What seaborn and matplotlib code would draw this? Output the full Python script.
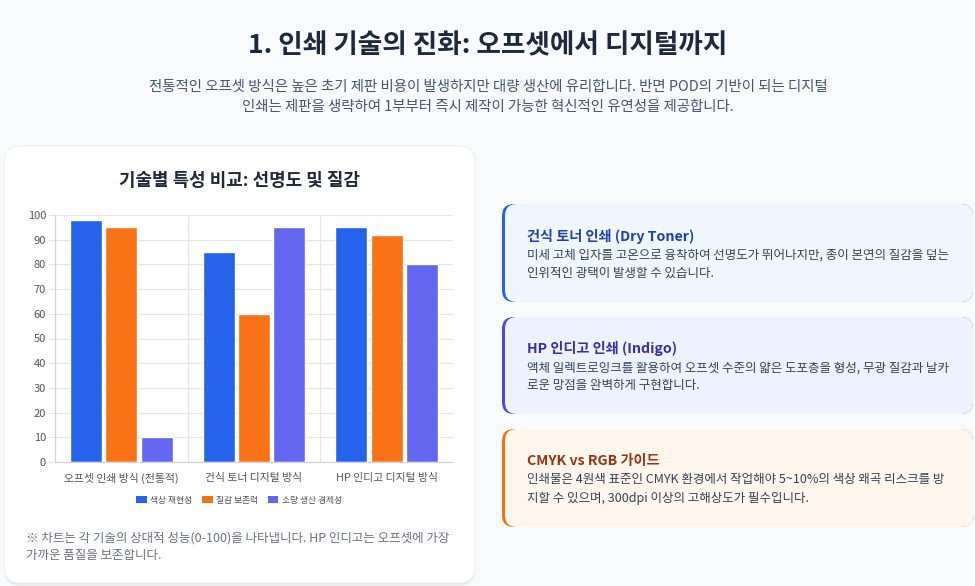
import matplotlib
matplotlib.use("Agg")
import matplotlib.pyplot as plt
from matplotlib.patches import FancyBboxPatch, Patch
import seaborn as sns
import pandas as pd

# ---------------- data ----------------
categories = ["오프셋 인쇄 방식 (전통적)", "건식 토너 디지털 방식", "HP 인디고 디지털 방식"]
series_names = ["색상 재현성", "질감 보존력", "소량 생산 경제성"]
color_repro = [98, 85, 95]
texture_keep = [95, 60, 92]
small_lot_econ = [10, 95, 80]
series_colors = ["#2563eb", "#f97316", "#6366f1"]
y_ticks = [0, 10, 20, 30, 40, 50, 60, 70, 80, 90, 100]

page_title = "1. 인쇄 기술의 진화: 오프셋에서 디지털까지"
page_sub = ["전통적인 오프셋 방식은 높은 초기 제판 비용이 발생하지만 대량 생산에 유리합니다. 반면 POD의 기반이 되는 디지털",
            "인쇄는 제판을 생략하여 1부부터 즉시 제작이 가능한 혁신적인 유연성을 제공합니다."]
chart_title = "기술별 특성 비교: 선명도 및 질감"
footnote = ["※ 차트는 각 기술의 상대적 성능(0-100)을 나타냅니다. HP 인디고는 오프셋에 가장",
            "가까운 품질을 보존합니다."]
card_titles = ["건식 토너 인쇄 (Dry Toner)", "HP 인디고 인쇄 (Indigo)", "CMYK vs RGB 가이드"]
card_bodies = [
    ["미세 고체 입자를 고온으로 융착하여 선명도가 뛰어나지만, 종이 본연의 질감을 덮는",
     "인위적인 광택이 발생할 수 있습니다."],
    ["액체 일렉트로잉크를 활용하여 오프셋 수준의 얇은 도포층을 형성, 무광 질감과 날카",
     "로운 망점을 완벽하게 구현합니다."],
    ["인쇄물은 4원색 표준인 CMYK 환경에서 작업해야 5~10%의 색상 왜곡 리스크를 방",
     "지할 수 있으며, 300dpi 이상의 고해상도가 필수입니다."],
]

df = pd.DataFrame({
    "category": categories * 3,
    "series": [series_names[0]] * 3 + [series_names[1]] * 3 + [series_names[2]] * 3,
    "value": color_repro + texture_keep + small_lot_econ,
})

# ---------------- figure ----------------
sns.set_theme(style="white")
plt.rcParams["font.family"] = ["Noto Sans CJK KR", "DejaVu Sans"]

W, H = 975, 586
fig = plt.figure(figsize=(W / 100, H / 100), dpi=100)
fig.patch.set_facecolor("#f8fafc")

bg = fig.add_axes([0, 0, 1, 1])
bg.set_xlim(0, W)
bg.set_ylim(H, 0)
bg.axis("off")
bg.set_zorder(0)

# header
bg.text(488, 46, page_title, ha="center", va="center", fontsize=19.2,
        fontweight="bold", color="#1e293b")
bg.text(488, 87, page_sub[0], ha="center", va="center", fontsize=10.4, color="#475569")
bg.text(488, 107, page_sub[1], ha="center", va="center", fontsize=10.4, color="#475569")

# left card (with soft shadow)
for off, a in [(3, 0.04), (1.5, 0.05)]:
    bg.add_patch(FancyBboxPatch((4, 146 + off), 471, 437, boxstyle="round,pad=0,rounding_size=16",
                                fc="#000000", ec="none", alpha=a))
bg.add_patch(FancyBboxPatch((4, 146), 471, 437, boxstyle="round,pad=0,rounding_size=16",
                            fc="white", ec="#eef0f3", lw=0.8))
bg.text(239, 181, chart_title, ha="center", va="center", fontsize=12.9,
        fontweight="bold", color="#1f2937")
bg.text(26, 538, footnote[0], ha="left", va="center", fontsize=9, color="#6b7280")
bg.text(26, 556, footnote[1], ha="left", va="center", fontsize=9, color="#6b7280")

# right cards
card_y = [(204, 302), (317, 414), (429, 527)]
card_bg = ["#eff6ff", "#eef2ff", "#fff7ed"]
card_border = ["#2563eb", "#4f46e5", "#f97316"]
card_title_col = ["#1e40af", "#3730a3", "#9a3412"]
for i, (y0, y1) in enumerate(card_y):
    h = y1 - y0
    bg.add_patch(FancyBboxPatch((502, y0), 471, h, boxstyle="round,pad=0,rounding_size=12",
                                fc=card_border[i], ec="none"))
    bg.add_patch(FancyBboxPatch((505, y0), 468, h, boxstyle="round,pad=0,rounding_size=12",
                                fc=card_bg[i], ec="none"))
    bg.text(527, y0 + 32, card_titles[i], ha="left", va="center", fontsize=10.2,
            fontweight="bold", color=card_title_col[i])
    bg.text(527, y0 + 51, card_bodies[i][0], ha="left", va="center", fontsize=9, color="#334155")
    bg.text(527, y0 + 69, card_bodies[i][1], ha="left", va="center", fontsize=9, color="#334155")

# chart axes
ax_l, ax_r, ax_t, ax_b = 55, 453, 215, 462
ax = fig.add_axes([ax_l / W, 1 - ax_b / H, (ax_r - ax_l) / W, (ax_b - ax_t) / H])
ax.set_zorder(2)
ax.patch.set_alpha(0)
sns.barplot(data=df, x="category", y="value", hue="series", order=categories,
            hue_order=series_names, palette=series_colors, gap=0.1, width=0.8,
            saturation=1, ax=ax, legend=True)
if ax.get_legend() is not None:
    ax.get_legend().remove()

ax.set_ylim(0, 100)
ax.set_xlim(-0.5, len(categories) - 0.5)
ax.set_yticks(y_ticks)
ax.set_xlabel("")
ax.set_ylabel("")
grid_c = "#e6e6e6"
ax.set_axisbelow(True)
ax.yaxis.grid(True, color=grid_c, lw=0.9)
ax.set_xticks([i - 0.5 for i in range(len(categories) + 1)], minor=True)
ax.xaxis.grid(True, which="minor", color=grid_c, lw=0.9)
ax.tick_params(axis="x", which="major", length=0, pad=8, labelsize=7.8, labelcolor="#555555")
ax.tick_params(axis="x", which="minor", length=5, color=grid_c, width=0.9, direction="out")
ax.tick_params(axis="y", length=5, color=grid_c, width=0.9, pad=1.5, labelsize=8,
               labelcolor="#555555", left=True)
for s in ["top", "right"]:
    ax.spines[s].set_visible(False)
for s in ["left", "bottom"]:
    ax.spines[s].set_color("#d4d4d4")
    ax.spines[s].set_linewidth(0.9)

leg_handles = [Patch(facecolor=c, edgecolor="none") for c in series_colors]
fig.legend(leg_handles, series_names, loc="center", bbox_to_anchor=(239 / W, 1 - 500 / H),
           ncol=3, frameon=False, fontsize=6.3, labelcolor="#555555", handlelength=1.2,
           handleheight=1.0, handletextpad=0.4, columnspacing=1.1)

fig.savefig("out.png", dpi=100, facecolor=fig.get_facecolor())
